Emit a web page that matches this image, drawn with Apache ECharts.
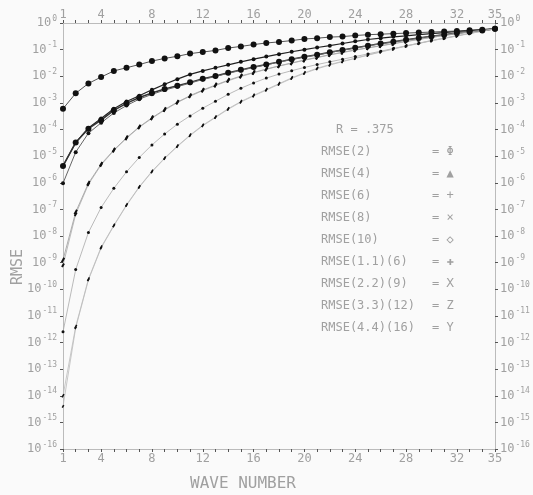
<!DOCTYPE html>
<html>
<head>
<meta charset="utf-8">
<script src="https://cdn.jsdelivr.net/npm/echarts@6/dist/echarts.min.js"></script>
<style>
html,body{margin:0;padding:0;background:#fafafa;}
#mybox{width:533px;height:495px;}
</style>
</head>
<body>
<div id="mybox"></div>
<script>
// wave numbers on the x axis
var waveNumbers = [1,2,3,4,5,6,7,8,9,10,11,12,13,14,15,16,17,18,19,20,21,22,23,24,25,26,27,28,29,30,31,32,33,34,35];
var xTickLabels = [1,4,8,12,16,20,24,28,32,35];

// log10 of RMSE
var rmse2   = [-3.22,-2.64,-2.27,-2.03,-1.80,-1.68,-1.56,-1.43,-1.33,-1.25,-1.15,-1.09,-1.03,-0.94,-0.88,-0.81,-0.75,-0.71,-0.66,-0.60,-0.57,-0.53,-0.51,-0.47,-0.44,-0.42,-0.40,-0.38,-0.36,-0.34,-0.32,-0.30,-0.27,-0.25,-0.22];
var rmse4   = [-5.37,-4.49,-3.94,-3.59,-3.22,-2.95,-2.73,-2.51,-2.30,-2.11,-1.93,-1.80,-1.68,-1.57,-1.46,-1.36,-1.26,-1.17,-1.08,-1.00,-0.92,-0.85,-0.77,-0.69,-0.62,-0.57,-0.52,-0.48,-0.44,-0.40,-0.36,-0.32,-0.29,-0.25,-0.22];
var rmse6   = [-8.90,-7.10,-6.02,-5.30,-4.77,-4.31,-3.90,-3.56,-3.25,-2.97,-2.73,-2.52,-2.33,-2.15,-1.99,-1.86,-1.73,-1.61,-1.50,-1.39,-1.29,-1.19,-1.10,-1.01,-0.93,-0.85,-0.77,-0.69,-0.61,-0.54,-0.47,-0.40,-0.34,-0.28,-0.22];
var rmse8   = [-11.60,-9.26,-7.87,-6.93,-6.21,-5.59,-5.05,-4.58,-4.17,-3.80,-3.49,-3.20,-2.94,-2.68,-2.45,-2.25,-2.07,-1.92,-1.79,-1.67,-1.56,-1.46,-1.36,-1.26,-1.16,-1.06,-0.96,-0.86,-0.76,-0.66,-0.57,-0.48,-0.39,-0.30,-0.22];
var rmse10  = [-14.00,-11.40,-9.62,-8.42,-7.60,-6.83,-6.15,-5.57,-5.07,-4.62,-4.21,-3.84,-3.53,-3.22,-2.95,-2.72,-2.50,-2.28,-2.06,-1.87,-1.70,-1.56,-1.44,-1.32,-1.20,-1.08,-0.97,-0.86,-0.76,-0.66,-0.57,-0.48,-0.39,-0.30,-0.22];
var rmse116 = [-5.37,-4.49,-3.97,-3.65,-3.28,-3.02,-2.80,-2.63,-2.48,-2.36,-2.23,-2.09,-1.99,-1.87,-1.76,-1.65,-1.56,-1.46,-1.36,-1.27,-1.19,-1.10,-1.01,-0.93,-0.85,-0.77,-0.70,-0.63,-0.56,-0.50,-0.44,-0.38,-0.33,-0.28,-0.22];
var rmse229 = [-6.02,-4.85,-4.14,-3.75,-3.38,-3.10,-2.86,-2.68,-2.52,-2.39,-2.26,-2.12,-2.01,-1.89,-1.78,-1.67,-1.57,-1.47,-1.37,-1.28,-1.20,-1.11,-1.02,-0.94,-0.86,-0.78,-0.71,-0.64,-0.57,-0.50,-0.44,-0.38,-0.33,-0.28,-0.22];
var rmse3312= [-9.10,-7.18,-6.06,-5.33,-4.79,-4.33,-3.92,-3.58,-3.27,-2.99,-2.75,-2.54,-2.35,-2.17,-2.01,-1.87,-1.74,-1.62,-1.51,-1.40,-1.30,-1.20,-1.11,-1.02,-0.94,-0.86,-0.78,-0.70,-0.62,-0.54,-0.47,-0.40,-0.34,-0.28,-0.22];
var rmse4416= [-14.40,-11.45,-9.65,-8.45,-7.62,-6.85,-6.17,-5.59,-5.09,-4.64,-4.23,-3.86,-3.55,-3.24,-2.97,-2.74,-2.52,-2.30,-2.08,-1.89,-1.72,-1.58,-1.45,-1.33,-1.21,-1.09,-0.98,-0.87,-0.77,-0.67,-0.58,-0.49,-0.40,-0.31,-0.22];

var seriesNames = ['RMSE(2)','RMSE(4)','RMSE(6)','RMSE(8)','RMSE(10)','RMSE(1.1)(6)','RMSE(2.2)(9)','RMSE(3.3)(12)','RMSE(4.4)(16)'];
var legendMarks = ['\u03A6','\u25B2','+','\u00D7','\u25C7','\u271A','\u2169','Z','Y'];

var txtColor = '#a0a0a0';
var monoFont = 'DejaVu Sans Mono';

function toPoints(exps){
    var out = [];
    for (var i = 0; i < waveNumbers.length; i++) {
        out.push([waveNumbers[i], Math.pow(10, exps[i])]);
    }
    return out;
}

function mkSeries(name, exps, lineColor, lineWidth, symbol, size, rot){
    return {
        name: name,
        type: 'line',
        data: toPoints(exps),
        symbol: symbol,
        symbolSize: size,
        symbolRotate: rot || 0,
        showSymbol: true,
        lineStyle: { color: lineColor, width: lineWidth },
        itemStyle: { color: '#111' },
        z: 3
    };
}

var mycharts = echarts.init(document.getElementById('mybox'));

function logLabel(v){
    var e = Math.round(Math.log10(v));
    return '{b|10}{e|' + e + '}';
}
var richLbl = {
    b: { fontSize: 12, color: txtColor, fontFamily: monoFont },
    e: { fontSize: 8, color: txtColor, fontFamily: monoFont, padding: [0,0,9,1] }
};

function xLabel(v){
    return (v === 1 || v === 35 || v % 4 === 0) ? String(v) : '';
}

// legend block inside the plot
var legendGraphics = [{
    type: 'text', left: 336, top: 124,
    style: { text: 'R = .375', fill: txtColor, font: '12px ' + monoFont }
}];
var rowY = [146, 168, 190, 212, 234, 256, 278, 300, 322];
for (var k = 0; k < seriesNames.length; k++) {
    legendGraphics.push({
        type: 'text', left: 321, top: rowY[k],
        style: { text: seriesNames[k], fill: txtColor, font: '12px ' + monoFont }
    });
    legendGraphics.push({
        type: 'text', left: 432, top: rowY[k],
        style: { text: '= ' + legendMarks[k], fill: txtColor, font: '12px ' + monoFont }
    });
}
legendGraphics.push({
    type: 'text', left: 190, top: 476,
    style: { text: 'WAVE NUMBER', fill: txtColor, font: '16px ' + monoFont }
});
legendGraphics.push({
    type: 'text', x: 11, y: 285, rotation: Math.PI / 2,
    style: { text: 'RMSE', fill: txtColor, font: '15px ' + monoFont }
});

var optionObj = {
    backgroundColor: '#fafafa',
    animation: false,
    grid: { left: 63, right: 38, top: 23, bottom: 46 },
    xAxis: [{
        type: 'value', min: 1, max: 35, interval: 1, position: 'bottom',
        axisLine: { lineStyle: { color: '#bbb', width: 1 } },
        axisTick: { length: 3, lineStyle: { color: '#555' } },
        axisLabel: { formatter: xLabel, color: txtColor, fontFamily: monoFont, fontSize: 12, margin: 4 },
        splitLine: { show: false }
    }, {
        type: 'value', min: 1, max: 35, interval: 1, position: 'top',
        axisLine: { lineStyle: { color: '#bbb', width: 1 } },
        axisTick: { length: 3, lineStyle: { color: '#555' } },
        axisLabel: { formatter: xLabel, color: txtColor, fontFamily: monoFont, fontSize: 12, margin: 2 },
        splitLine: { show: false }
    }],
    yAxis: [{
        type: 'log', logBase: 10, min: 1e-16, max: 1, interval: 1, splitNumber: 16, position: 'left',
        axisLine: { show: true, lineStyle: { color: '#bbb', width: 1 } },
        axisTick: { show: true, length: 3, lineStyle: { color: '#555' } },
        axisLabel: { formatter: logLabel, rich: richLbl, margin: 6 },
        splitLine: { show: false }
    }, {
        type: 'log', logBase: 10, min: 1e-16, max: 1, interval: 1, splitNumber: 16, position: 'right',
        axisLine: { show: true, lineStyle: { color: '#bbb', width: 1 } },
        axisTick: { show: true, length: 3, lineStyle: { color: '#555' } },
        axisLabel: { formatter: logLabel, rich: richLbl, margin: 5 },
        splitLine: { show: false }
    }],
    graphic: legendGraphics,
    series: [
        mkSeries(seriesNames[0], rmse2,    '#555', 1,   'circle', 6),
        mkSeries(seriesNames[1], rmse4,    '#222', 1.2, 'circle', 4),
        mkSeries(seriesNames[2], rmse6,    '#999', 0.8, 'rect', [2,5], -30),
        mkSeries(seriesNames[3], rmse8,    '#aaa', 0.8, 'circle', 3),
        mkSeries(seriesNames[4], rmse10,   '#bbb', 0.8, 'rect', [1.5,4], -30),
        mkSeries(seriesNames[5], rmse116,  '#333', 1.5, 'circle', 6),
        mkSeries(seriesNames[6], rmse229,  '#666', 1,   'circle', 4),
        mkSeries(seriesNames[7], rmse3312, '#aaa', 0.8, 'rect', [2,4], -30),
        mkSeries(seriesNames[8], rmse4416, '#bbb', 0.8, 'rect', [1.5,3], -30)
    ]
};

mycharts.setOption(optionObj);
</script>
</body>
</html>
